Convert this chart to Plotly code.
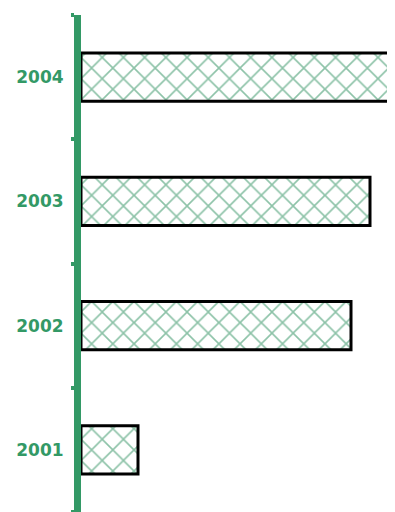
import plotly.graph_objects as go

years = ["2001", "2002", "2003", "2004"]
values = [57, 270, 289, 308]

green = "#339966"

fig = go.Figure(go.Bar(
    y=years, x=values, orientation="h",
    marker=dict(color="white", line=dict(color="black", width=3),
                pattern=dict(shape="x", fgcolor="#1a8550", bgcolor="white", size=15, solidity=0.2)),
    width=0.39,
))
fig.update_layout(
    width=395, height=512, margin=dict(l=73, r=14, t=7, b=8),
    paper_bgcolor="white", plot_bgcolor="white", showlegend=False, bargap=0.61,
)
fig.update_xaxes(range=[0, 308], visible=False, showgrid=False, zeroline=False)
fig.update_yaxes(type="category", categoryorder="array", categoryarray=years,
                 showline=True, linecolor=green, linewidth=7, showgrid=False,
                 ticks="outside", tickson="boundaries", ticklen=3, tickcolor=green, tickwidth=4,
                 tickfont=dict(family="DejaVu Sans", size=17, color=green, weight="bold"),
                 ticklabelstandoff=7)
fig.write_html("out.html")
